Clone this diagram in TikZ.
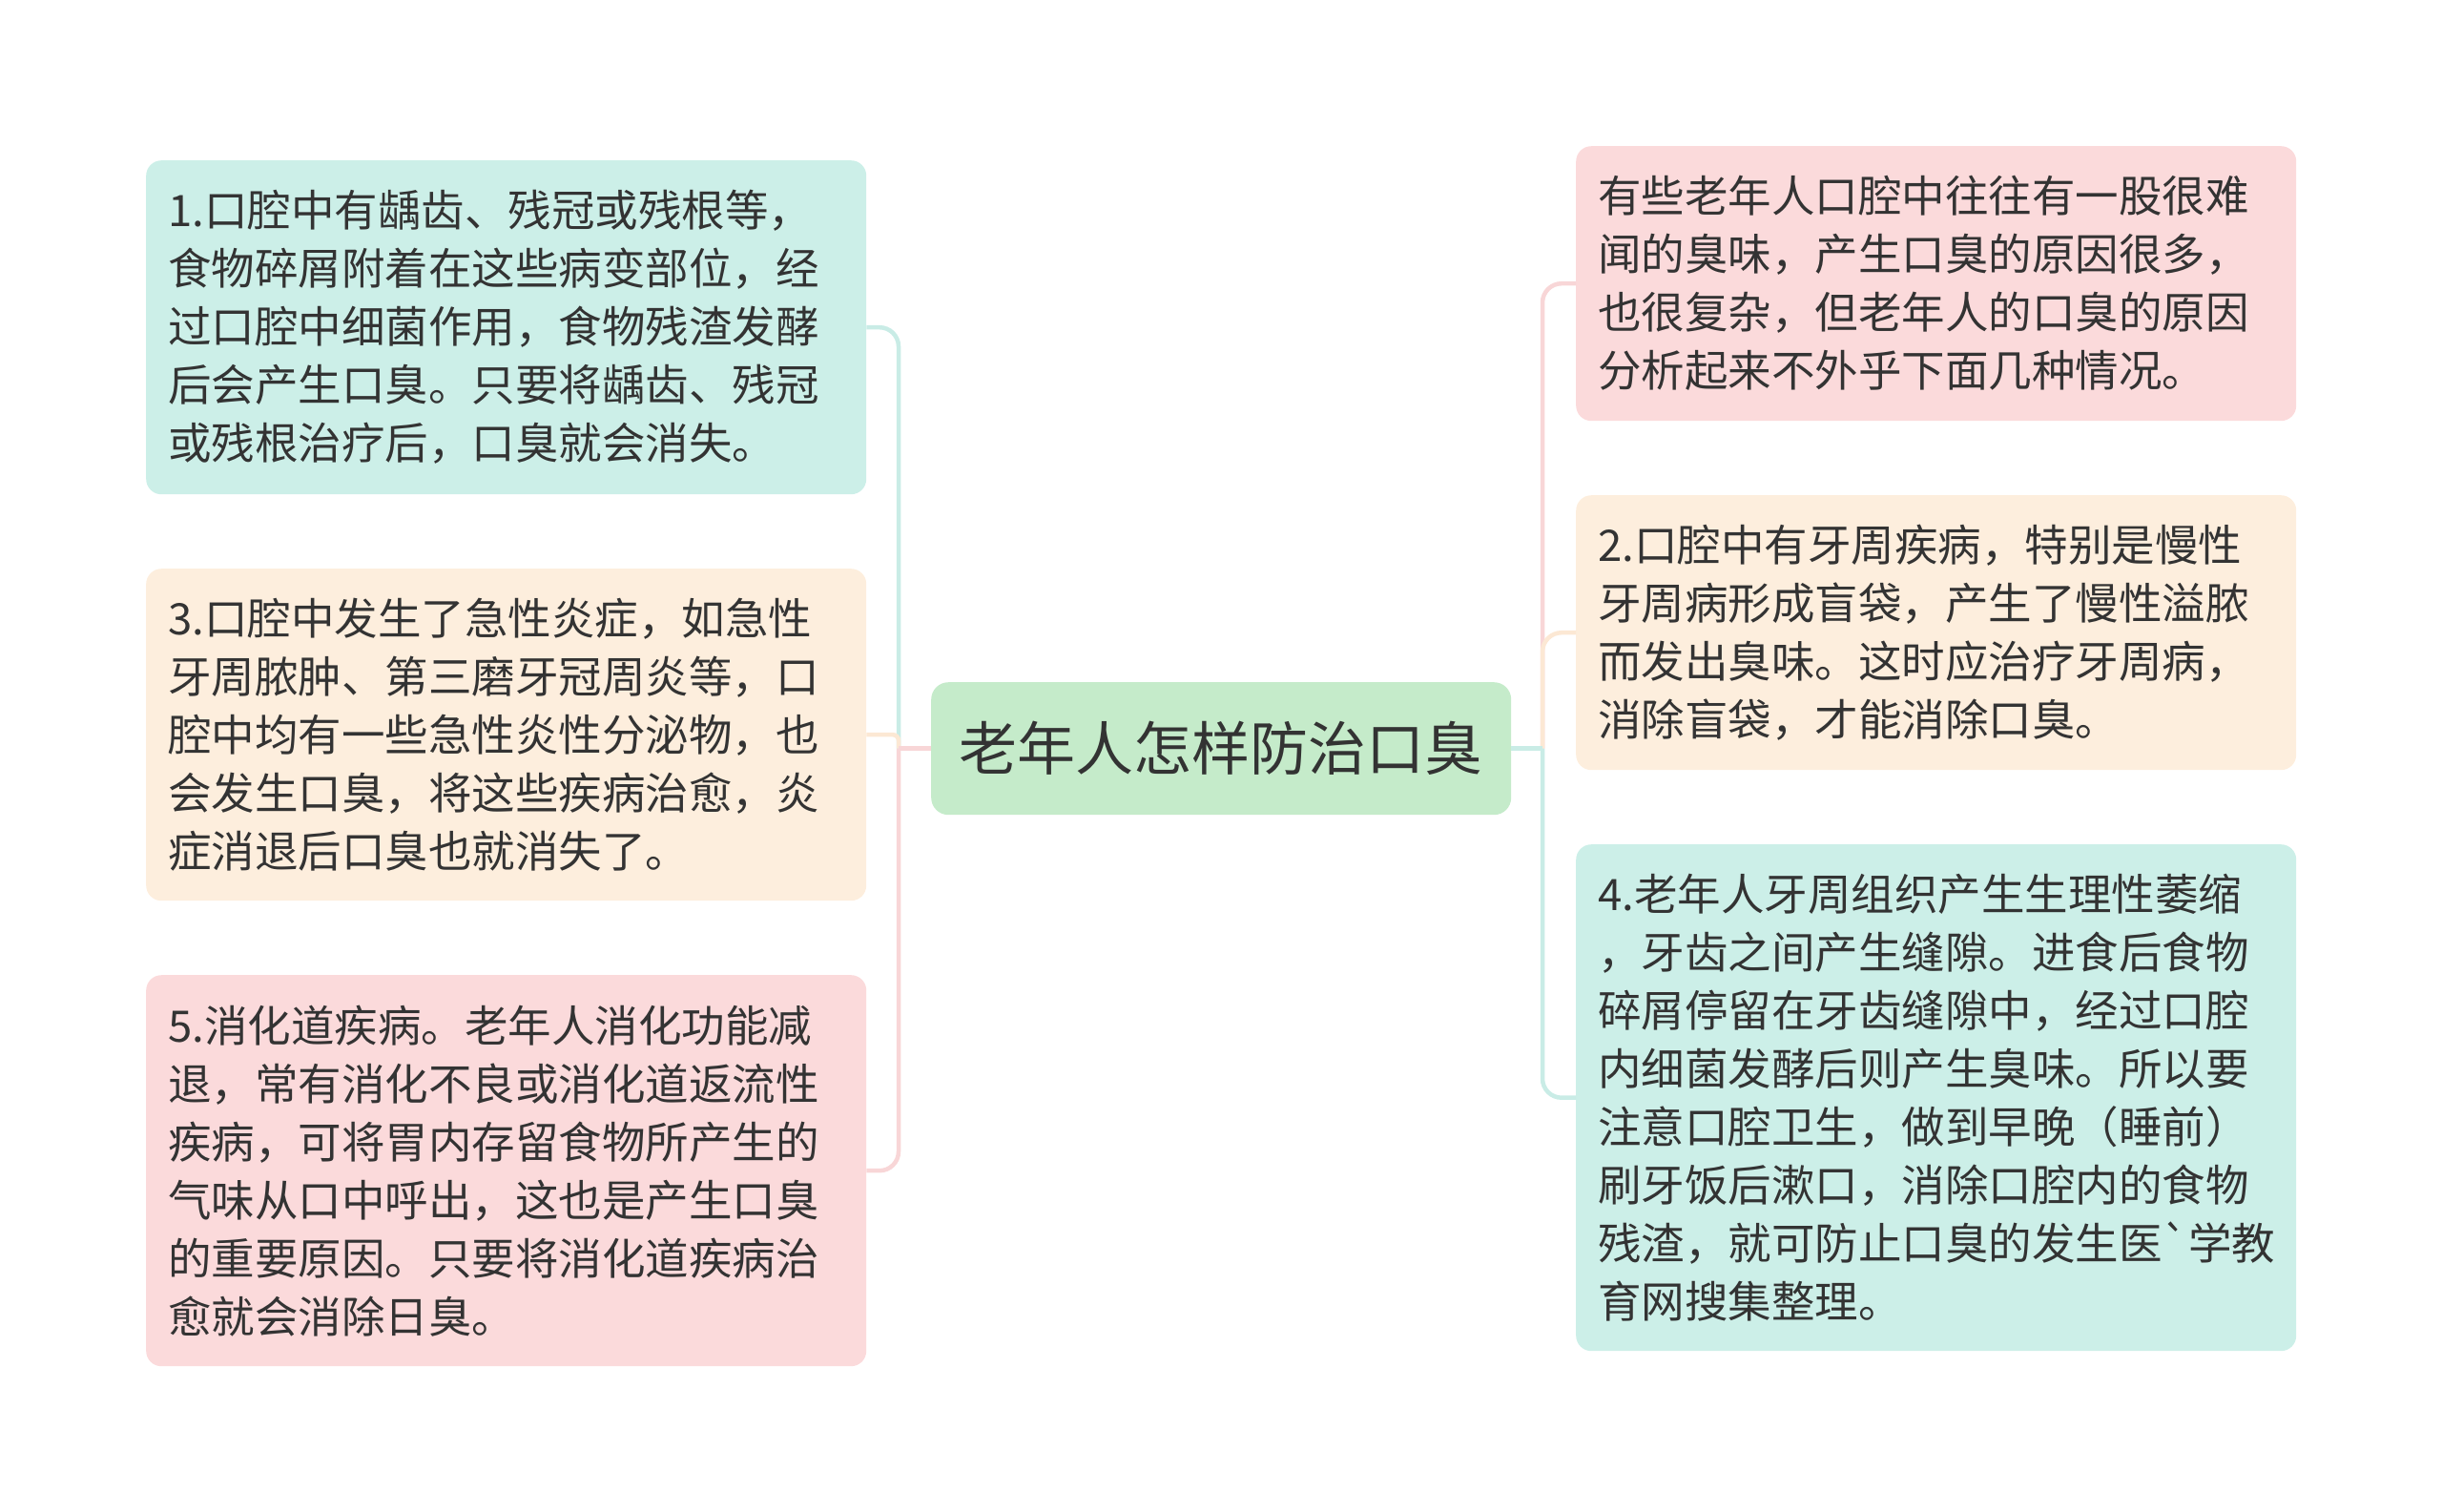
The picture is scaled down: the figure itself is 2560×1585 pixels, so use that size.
\documentclass[tikz,border=0pt]{standalone}
\usepackage{fontspec}
\setmainfont{Noto Sans CJK SC}
\definecolor{cteal}{HTML}{CCEFE8}
\definecolor{cpeach}{HTML}{FDEEDD}
\definecolor{cpink}{HTML}{FBDADB}
\definecolor{cgreen}{HTML}{C5EBCA}
\definecolor{lteal}{HTML}{C9ECE6}
\definecolor{lpeach}{HTML}{FCE8D4}
\definecolor{lpink}{HTML}{F8D6D7}
\definecolor{ctext}{HTML}{333333}
\begin{document}
\begin{tikzpicture}[x=1pt,y=-1pt,
  leaf/.style={rounded corners=16pt, anchor=north west, minimum width=755pt,
    text width=709pt, inner xsep=23pt, inner ysep=0pt, align=left, text=ctext,
    font=\fontsize{45.5}{61}\selectfont},
  root/.style={rounded corners=18pt, anchor=north west, minimum width=608pt,
    minimum height=139pt, fill=cgreen, text=ctext, inner sep=0pt,
    font=\fontsize{61}{70}\selectfont},
  conn/.style={line width=4.5pt},
  branchline/.style={line width=4.5pt, rounded corners=20pt}]
\useasboundingbox (0,0) rectangle (2560,1585);
\coordinate (tl) at (942,0);
\coordinate (tr) at (1617,0);

\node[root] (c) at (976,715) {老年人怎样防治口臭};

\node[leaf, fill=cteal, minimum height=350pt] (b1) at (153,168) {1.口腔中有龋齿、残冠或残根等，\\食物碎屑附着在这些病变部位，经\\过口腔中细菌作用，食物残渣发酵\\后会产生口臭。只要将龋齿、残冠\\或残根治疗后，口臭就会消失。};
\node[leaf, fill=cpeach, minimum height=348pt] (b3) at (153,596) {3.口腔中发生了急性炎症，如急性\\牙周脓肿、第三磨牙冠周炎等，口\\腔中均有一些急性炎性分泌物，也\\会发生口臭，将这些疾病治愈，炎\\症消退后口臭也就消失了。};
\node[leaf, fill=cpink, minimum height=410pt] (b5) at (153,1022) {5.消化道疾病。老年人消化功能减\\退，常有消化不良或消化道返流性\\疾病，可将胃内存留食物所产生的\\气味从口中呼出，这也是产生口臭\\的重要原因。只要将消化道疾病治\\愈就会消除日臭。};

\node[leaf, fill=cpink, minimum height=288pt] (r1) at (1652,153) {有些老年人口腔中往往有一股很难\\闻的臭味，产生口臭的原因很多，\\也很复杂，但老年人的口臭的原因\\分析起来不外乎下面几种情况。};
\node[leaf, fill=cpeach, minimum height=288pt] (r2) at (1652,519) {2.口腔中有牙周疾病，特别是慢性\\牙周病形成盲袋，产生了慢性溢脓\\而发出臭味。这时应治疗牙周病，\\消除盲袋，才能消除口臭。};
\node[leaf, fill=cteal, minimum height=531pt] (r4) at (1652,885) {4.老年人牙周组织产生生理性萎缩\\，牙齿之间产生缝隙。进食后食物\\碎屑停留在牙齿缝隙中，经过口腔\\内细菌发酵后则产生臭味。所以要\\注意口腔卫生，做到早晚（睡前）\\刷牙饭后漱口，消除口腔内的食物\\残渣，就可防止口臭的发生医\textasciigrave 学教\\育网搜集整理。};

% left connectors
\draw[conn, lteal] (c.west) -- (c.west -| tl);
\draw[branchline, lteal] (c.west -| tl) -- (tl |- b1.east) -- (b1.east);
\draw[branchline, lpeach, rounded corners=6pt] (c.west -| tl) -- (tl |- b3.east) -- (b3.east);
\draw[branchline, lpink] (c.west -| tl) -- (tl |- b5.east) -- (b5.east);
\draw[conn, lpink] (c.west) -- (c.west -| tl);

% right connectors
\draw[branchline, lpink] (c.east -| tr) -- (tr |- r1.west) -- (r1.west);
\draw[branchline, lpeach] (c.east -| tr) -- (tr |- r2.west) -- (r2.west);
\draw[branchline, lteal] (c.east -| tr) -- (tr |- r4.west) -- (r4.west);
\draw[conn, lteal] (c.east) -- (c.east -| tr);
\end{tikzpicture}
\end{document}
